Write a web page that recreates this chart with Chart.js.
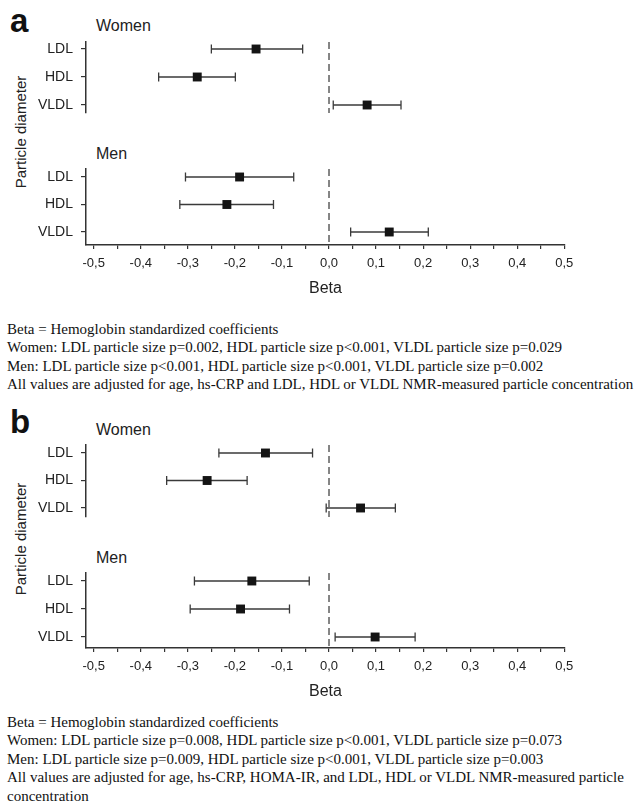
<!DOCTYPE html>
<html><head><meta charset="utf-8">
<script src="https://cdn.jsdelivr.net/npm/chart.js@4.4.0/dist/chart.umd.min.js"></script>
<style>
html,body{margin:0;padding:0;background:#fff;}
body{width:642px;height:807px;position:relative;overflow:hidden;font-family:"Liberation Sans",Arial,sans-serif;color:#1a1a1a;}
.abs{position:absolute;white-space:nowrap;line-height:1;}
canvas{position:absolute;left:0;}
.letter{font-weight:bold;font-size:33px;color:#111;}
.grp{font-size:16px;color:#222;}
.ytitle{font-size:15px;color:#222;transform:translate(-50%,-50%) rotate(-90deg);}
.cap{position:absolute;left:7px;font-family:"Liberation Serif","Times New Roman",serif;font-size:15px;line-height:18.5px;color:#111;white-space:nowrap;}
</style></head><body>
<div class="abs letter" style="left:10px;top:4px;">a</div>
<div class="abs grp" style="left:96px;top:18px;">Women</div>
<div class="abs grp" style="left:96px;top:145.8px;">Men</div>
<div class="abs ytitle" style="left:19.5px;top:131.5px;">Particle diameter</div>
<canvas id="aW"></canvas>
<canvas id="aM"></canvas>
<div class="cap" style="top:319.7px;">Beta = Hemoglobin standardized coefficients<br>Women: LDL particle size p=0.002, HDL particle size p&lt;0.001, VLDL particle size p=0.029<br>Men: LDL particle size p&lt;0.001, HDL particle size p&lt;0.001, VLDL particle size p=0.002<br>All values are adjusted for age, hs-CRP and LDL, HDL or VLDL NMR-measured particle concentration</div>

<div class="abs letter" style="left:10px;top:405px;">b</div>
<div class="abs grp" style="left:96px;top:421.5px;">Women</div>
<div class="abs grp" style="left:96px;top:549.8px;">Men</div>
<div class="abs ytitle" style="left:19.5px;top:538.5px;">Particle diameter</div>
<canvas id="bW"></canvas>
<canvas id="bM"></canvas>
<div class="cap" style="top:712.7px;">Beta = Hemoglobin standardized coefficients<br>Women: LDL particle size p=0.008, HDL particle size p&lt;0.001, VLDL particle size p=0.073<br>Men: LDL particle size p=0.009, HDL particle size p&lt;0.001, VLDL particle size p=0.003<br>All values are adjusted for age, hs-CRP, HOMA-IR, and LDL, HDL or VLDL NMR-measured particle<br>concentration</div>

<script>
const rowLabels = ['LDL', 'HDL', 'VLDL'];
const xTickValues = [-0.5, -0.4, -0.3, -0.2, -0.1, 0, 0.1, 0.2, 0.3, 0.4, 0.5];
const xTickLabels = ['-0,5', '-0,4', '-0,3', '-0,2', '-0,1', '0,0', '0,1', '0,2', '0,3', '0,4', '0,5'];
const referenceBeta = 0;

// Panel a
const aWomenBeta  = [-0.155, -0.280, 0.081];
const aWomenLower = [-0.250, -0.362, 0.009];
const aWomenUpper = [-0.056, -0.199, 0.153];
const aMenBeta    = [-0.190, -0.217, 0.128];
const aMenLower   = [-0.305, -0.317, 0.046];
const aMenUpper   = [-0.075, -0.118, 0.211];

// Panel b
const bWomenBeta  = [-0.135, -0.259, 0.067];
const bWomenLower = [-0.234, -0.345, -0.006];
const bWomenUpper = [-0.035, -0.174, 0.141];
const bMenBeta    = [-0.164, -0.188, 0.098];
const bMenLower   = [-0.286, -0.295, 0.013];
const bMenUpper   = [-0.042, -0.084, 0.183];

const FONT = '"Liberation Sans", Arial, sans-serif';
const AXIS = '#333';
const BAR = '#3a3a3a';

// minor ticks halfway between labelled ticks
const xTickPositions = [];
xTickValues.forEach((v, i) => {
  xTickPositions.push(v);
  if (i < xTickValues.length - 1) xTickPositions.push((v + xTickValues[i + 1]) / 2);
});

function subplot(id, beta, lower, upper, g) {
  const cv = document.getElementById(id);
  const W = 600;
  const padTop = 20;
  const xAxisH = g.showX ? 56 : 0;
  const padBottom = g.showX ? 0 : 20;
  const areaH = g.areaBottom - g.areaTop;
  const H = padTop + areaH + xAxisH + padBottom;
  cv.width = W; cv.height = H;
  cv.style.width = W + 'px'; cv.style.height = H + 'px';
  cv.style.top = (g.areaTop - padTop) + 'px';
  const yMin = -(g.rowTop - g.areaTop) / g.rowStep;
  const yMax = yMin + areaH / g.rowStep;

  const datasets = [];
  datasets.push({
    data: beta.map((b, i) => ({x: b, y: i})),
    pointStyle: 'rect', pointRadius: 6.3, pointHoverRadius: 6.3,
    backgroundColor: '#141414', borderWidth: 0, showLine: false, order: 0
  });
  beta.forEach((b, i) => {
    datasets.push({
      data: [{x: lower[i], y: i}, {x: upper[i], y: i}],
      showLine: true, borderColor: BAR, borderWidth: 1.3,
      pointStyle: 'line', rotation: 90, pointRadius: 4.5, pointHoverRadius: 4.5,
      pointBorderColor: BAR, pointBorderWidth: 1.3, pointBackgroundColor: BAR, order: 1
    });
  });
  datasets.push({
    data: [{x: referenceBeta, y: yMin}, {x: referenceBeta, y: yMax}],
    showLine: true, borderColor: '#444', borderWidth: 1.3, borderDash: [7, 4],
    pointRadius: 0, pointHoverRadius: 0, order: 2
  });

  new Chart(cv, {
    type: 'scatter',
    data: {datasets},
    options: {
      responsive: false, animation: false,
      layout: {padding: {left: 0, right: W - 565, top: padTop, bottom: padBottom}},
      plugins: {legend: {display: false}, tooltip: {enabled: false}},
      events: [],
      scales: {
        x: {
          type: 'linear', min: -0.5164, max: 0.5015, display: g.showX,
          afterBuildTicks: s => { s.ticks = xTickPositions.map(v => ({value: v})); },
          ticks: {
            autoSkip: false, maxRotation: 0, padding: 7, color: '#222',
            font: {size: 13, family: FONT},
            callback: v => {
              const k = xTickValues.findIndex(t => Math.abs(t - v) < 1e-6);
              return k >= 0 ? xTickLabels[k] : '';
            }
          },
          grid: {drawOnChartArea: false, drawTicks: true, tickLength: 4, tickColor: AXIS, lineWidth: 1.2},
          border: {display: true, color: AXIS, width: 1.5},
          title: {display: true, text: 'Beta', color: '#222', font: {size: 16, family: FONT}, padding: {top: 0, bottom: 3}},
          afterFit: s => { s.height = xAxisH; }
        },
        y: {
          type: 'linear', reverse: true, min: yMin, max: yMax,
          afterBuildTicks: s => { s.ticks = rowLabels.map((_, i) => ({value: i})); },
          ticks: {
            autoSkip: false, padding: 8, color: '#222', font: {size: 14, family: FONT},
            callback: v => rowLabels[v] !== undefined ? rowLabels[v] : ''
          },
          grid: {drawOnChartArea: false, drawTicks: true, tickLength: 5, tickColor: AXIS, lineWidth: 1.2},
          border: {display: true, color: AXIS, width: 1.5},
          afterFit: s => { s.width = 86; }
        }
      }
    }
  });
}

subplot('aW', aWomenBeta, aWomenLower, aWomenUpper, {areaTop: 42, areaBottom: 113, rowTop: 49, rowStep: 28, showX: false});
subplot('aM', aMenBeta, aMenLower, aMenUpper, {areaTop: 169, areaBottom: 245, rowTop: 177, rowStep: 27.5, showX: true});
subplot('bW', bWomenBeta, bWomenLower, bWomenUpper, {areaTop: 445, areaBottom: 517, rowTop: 453, rowStep: 27.5, showX: false});
subplot('bM', bMenBeta, bMenLower, bMenUpper, {areaTop: 573, areaBottom: 648, rowTop: 581, rowStep: 28, showX: true});
</script>
</body></html>
